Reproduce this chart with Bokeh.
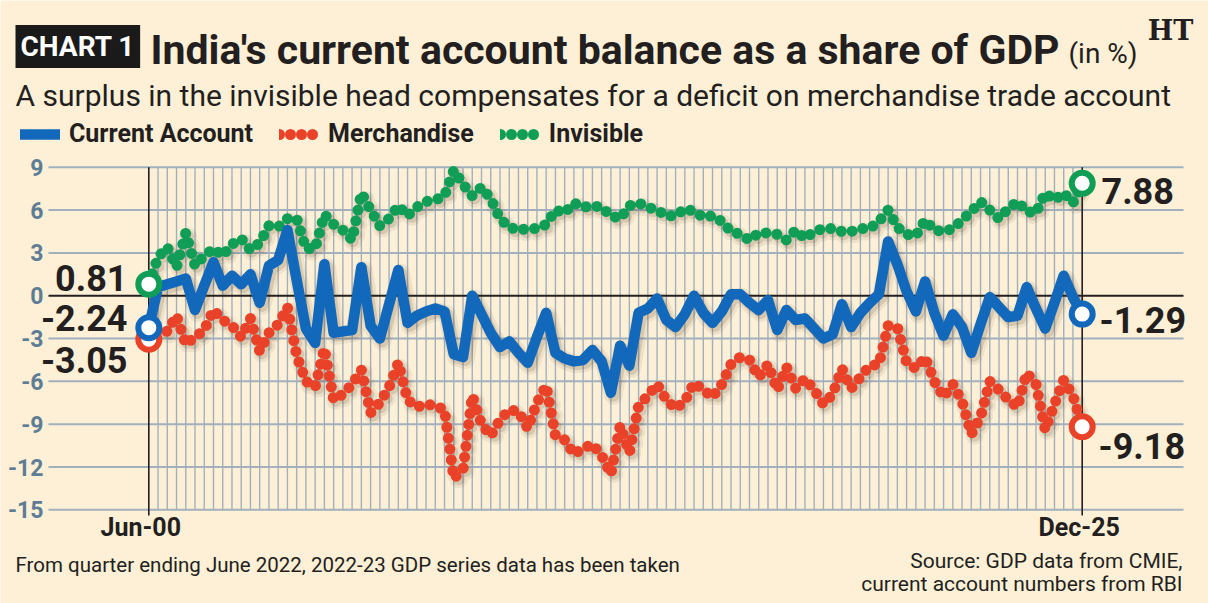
from bokeh.plotting import figure
from bokeh.models import Range1d, Label, Legend, LegendItem, ColumnDataSource
from bokeh.core.properties import value
from bokeh.embed import file_html
from bokeh.resources import INLINE

# ---------------- data (quarterly, % of GDP) ----------------
x_tick_labels = ["Jun-00", "Dec-25"]
y_ticks = [9, 6, 3, 0, -3, -6, -9, -12, -15]

current_account = [
    -2.24, 0.6, 0.8, 1.0, 1.2, -1.0, 0.7, 2.35, 0.7, 1.4,
    0.8, 1.5, -0.5, 2.1, 2.5, 4.6, 1.1, -2.3, -3.3, 2.2,
    -2.6, -2.5, -2.4, 2.0, -2.1, -3.0, -0.6, 1.8, -1.9, -1.4,
    -1.1, -0.9, -1.1, -4.1, -4.3, 0.0, -1.3, -2.6, -3.6, -3.2,
    -4.0, -4.7, -2.9, -1.2, -4.0, -4.4, -4.6, -4.5, -3.8, -4.6,
    -6.8, -3.5, -4.9, -1.2, -0.9, -0.2, -1.7, -2.2, -1.3, 0.0,
    -1.2, -1.9, -1.1, 0.1, 0.1, -0.5, -1.0, -0.3, -2.4, -1.0,
    -1.7, -1.6, -2.3, -3.0, -2.7, -0.6, -2.2, -1.2, -0.5, 0.1,
    3.8, 2.2, 0.3, -1.1, 1.0, -1.2, -2.8, -1.3, -2.2, -4.0,
    -2.0, -0.1, -0.8, -1.5, -1.4, 0.6, -0.9, -2.3, -0.5, 1.4,
    -0.1, -1.29]

merchandise = [
    -3.05, -2.4, -2.5, -1.4, -3.4, -2.9, -2.4, -1.0, -1.7, -2.1,
    -2.9, -1.6, -3.9, -2.6, -2.0, -0.8, -4.2, -6.0, -6.4, -3.7,
    -7.3, -6.9, -6.2, -5.2, -8.2, -7.5, -6.4, -4.7, -7.3, -7.8,
    -7.6, -7.7, -8.0, -12.8, -12.2, -7.0, -9.0, -9.8, -8.7, -8.0,
    -8.1, -9.3, -7.5, -6.3, -9.8, -10.1, -11.1, -10.7, -10.4, -11.2,
    -12.5, -9.1, -11.0, -7.7, -7.0, -6.2, -7.3, -7.9, -7.4, -6.1,
    -6.6, -7.1, -6.2, -4.8, -4.3, -4.5, -5.7, -4.8, -6.6, -5.0,
    -6.5, -5.8, -6.6, -7.6, -6.9, -5.1, -6.5, -5.7, -4.9, -4.8,
    -2.1, -2.2, -4.7, -5.1, -4.3, -6.0, -7.1, -6.2, -7.4, -9.7,
    -8.5, -6.0, -6.6, -7.3, -7.8, -5.4, -6.2, -9.4, -7.6, -5.9,
    -7.0, -9.18]

invisible = [
    0.81, 2.7, 3.4, 2.0, 4.4, 2.1, 2.8, 3.3, 2.8, 3.6,
    4.0, 3.2, 3.7, 4.9, 4.8, 5.4, 5.4, 3.3, 3.3, 5.7,
    5.0, 4.6, 3.9, 7.2, 6.0, 4.9, 5.4, 6.3, 5.6, 6.2,
    6.6, 6.7, 7.0, 8.8, 7.8, 7.0, 7.6, 6.8, 5.4, 4.8,
    4.6, 4.7, 4.7, 5.0, 6.0, 5.8, 6.5, 6.2, 6.3, 6.2,
    5.6, 5.4, 6.3, 6.5, 6.2, 6.0, 5.6, 5.6, 6.1, 5.9,
    5.5, 5.6, 5.2, 4.5, 4.3, 3.9, 4.4, 4.4, 4.3, 3.9,
    4.6, 4.0, 4.5, 4.7, 4.7, 4.5, 4.5, 4.7, 4.7, 5.2,
    6.0, 4.8, 4.3, 4.2, 5.3, 4.6, 4.5, 4.7, 5.3, 5.9,
    6.6, 6.0, 5.4, 6.1, 6.6, 5.9, 5.8, 7.2, 6.7, 7.2,
    6.5, 7.88]

# ---------------- style / layout ----------------
FONT = "Roboto"
BG = "#FDF0D6"
INK = "#231F20"
SLATE = "#5E7D95"
GRIDC = "#A2B0BD"
BLUE = "#1268BA"
RED = "#EA4228"
GREEN = "#109D56"
DOTS = "0 11"

W, H = 1208, 603
X0PX, X1PX = 148.3, 1081.7      # first / last quarter (page px)
Y0PX, PXU = 295.2, 14.275       # zero line, px per percentage point
GRID_L, GRID_R = 48, 1183       # horizontal grid extent (page px)

n = len(current_account)
xs = list(range(n))
dxpx = (X1PX - X0PX) / (n - 1)


def xd(px):
    return (px - X0PX) / dxpx


def yd(py):
    return (Y0PX - py) / PXU


p = figure(width=W, height=H,
           x_range=Range1d(xd(0), xd(W)), y_range=Range1d(yd(H), yd(0)),
           x_axis_type=None, y_axis_type=None,
           output_backend="svg", toolbar_location=None,
           min_border=0, background_fill_color=BG, border_fill_color=BG,
           outline_line_color=None)

ytop, ybot = max(y_ticks), min(y_ticks)

# horizontal grid lines and black zero line
hg = [t for t in y_ticks if t != 0]
p.segment(x0=[xd(GRID_L)] * len(hg), x1=[xd(GRID_R)] * len(hg), y0=hg, y1=hg,
          line_color=GRIDC, line_width=2)
# vertical quarter grid
inner = xs[1:-1]
p.segment(x0=inner, x1=inner, y0=[ytop] * len(inner), y1=[ybot] * len(inner),
          line_color=GRIDC, line_width=1.4)
p.segment(x0=[xd(GRID_L)], x1=[xd(GRID_R)], y0=[0], y1=[0], line_color=INK, line_width=2)
# black boundary lines at first and last quarter
p.segment(x0=[0, n - 1], x1=[0, n - 1], y0=[ytop, ytop], y1=[yd(515), yd(515)],
          line_color=INK, line_width=1.6)

# y tick labels
p.text(x=[xd(43)] * len(y_ticks), y=y_ticks, text=[str(t) for t in y_ticks],
       text_align="right", text_baseline="middle", text_font=value(FONT),
       text_font_size="23px", text_font_style="bold", text_color=SLATE)
# x tick labels
xt = ColumnDataSource(dict(x=[0, n - 1], y=[yd(527)] * 2, t=x_tick_labels, off=[-8, -3]))
p.text(x="x", y="y", text="t", x_offset="off", source=xt, text_align="center",
       text_baseline="middle", text_font=value(FONT), text_font_size="25px",
       text_font_style="bold", text_color=INK)

# soft drop shadows
sdx, sdy = 2.5 / dxpx, -3.0 / PXU
shx = [v + sdx for v in xs]
for series, dash in ((invisible, DOTS), (merchandise, DOTS), (current_account, "solid")):
    shy = [v + sdy for v in series]
    p.line(shx, shy, line_color="#4a3818", line_alpha=0.08, line_width=18,
           line_cap="round", line_join="round", line_dash=dash)
    p.line(shx, shy, line_color="#4a3818", line_alpha=0.15, line_width=12,
           line_cap="round", line_join="round", line_dash=dash)

g_line = p.line(xs, invisible, line_color=GREEN, line_width=11, line_dash=DOTS,
                line_cap="round", line_join="round")
r_line = p.line(xs, merchandise, line_color=RED, line_width=11, line_dash=DOTS,
                line_cap="round", line_join="round")
b_line = p.line(xs, current_account, line_color=BLUE, line_width=10.5,
                line_cap="round", line_join="round")

for series, col in ((invisible, GREEN), (merchandise, RED), (current_account, BLUE)):
    p.scatter([0, n - 1], [series[0], series[-1]], marker="circle", size=21,
              fill_color="white", line_color=col, line_width=6)

# legend
legend = Legend(items=[LegendItem(label="Current Account", renderers=[b_line]),
                       LegendItem(label="Merchandise", renderers=[r_line]),
                       LegendItem(label="Invisible", renderers=[g_line])],
                orientation="horizontal", location=(20, H - 148),
                glyph_width=40, glyph_height=24, label_height=24,
                label_standoff=9, spacing=26, padding=0, margin=0,
                border_line_color=None, background_fill_alpha=0,
                label_text_font=FONT, label_text_font_size="25px",
                label_text_font_style="bold", label_text_color=INK)
p.add_layout(legend, "center")


def lbl(text, X, Y, size, bold=False, align="left", color=INK, font=FONT, **kw):
    return Label(x=X, y=H - Y, x_units="screen", y_units="screen", text=text,
                 text_font=font, text_font_size=f"{size}px",
                 text_font_style="bold" if bold else "normal", text_color=color,
                 text_align=align, text_baseline="middle", **kw)


labels = [
    lbl("CHART 1", 15, 46, 28, bold=True, color="white",
        background_fill_color="#1A1A1A", padding=5),
    lbl("India's current account balance as a share of GDP", 150, 49, 41, bold=True),
    lbl("(in %)", 1068, 53, 28),
    lbl("HT", 1170, 30, 27, bold=True, align="center", font="DejaVu Serif"),
    lbl("A surplus in the invisible head compensates for a deficit on merchandise trade account",
        15, 95, 30),
    # end values
    lbl(f"{invisible[0]:.2f}", 127, 277, 36, bold=True, align="right"),
    lbl(f"{current_account[0]:.2f}", 127, 317, 36, bold=True, align="right"),
    lbl(f"{merchandise[0]:.2f}", 127, 359, 36, bold=True, align="right"),
    lbl(f"{invisible[-1]:.2f}", 1101, 190, 36, bold=True),
    lbl(f"{current_account[-1]:.2f}", 1099, 319, 36, bold=True),
    lbl(f"{merchandise[-1]:.2f}", 1098, 445, 36, bold=True),
    # footers
    lbl("From quarter ending June 2022, 2022-23 GDP series data has been taken", 15, 564, 20.5),
    lbl("Source: GDP data from CMIE,", 1182, 560, 21, align="right"),
    lbl("current account numbers from RBI", 1182, 583, 21, align="right"),
]
for lb in labels:
    p.add_layout(lb)

open("out.html", "w").write(file_html(p, INLINE))
